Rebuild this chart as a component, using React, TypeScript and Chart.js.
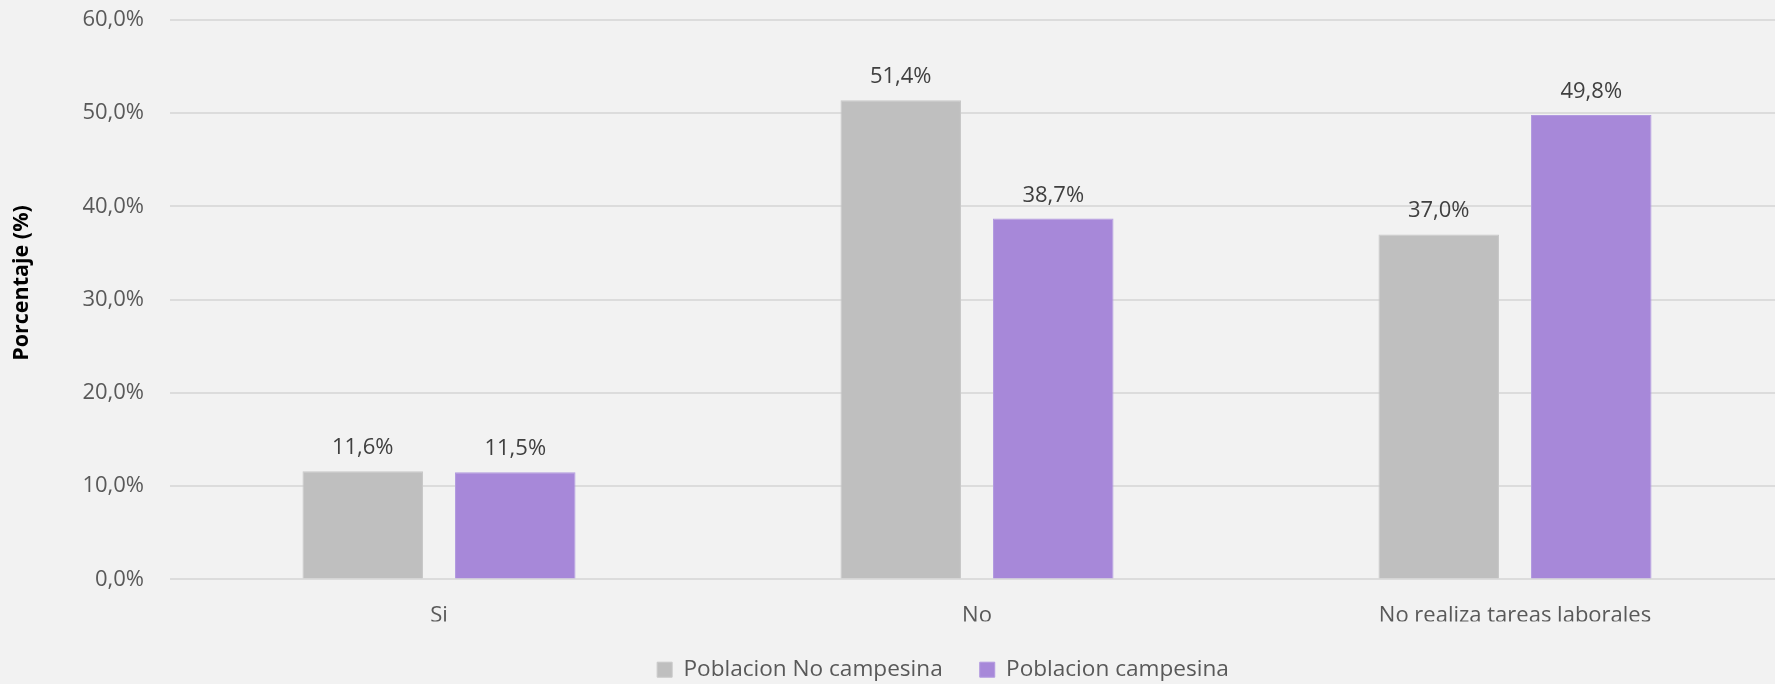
import React, { useEffect, useRef } from "react";
import { Chart, registerables } from "chart.js";

Chart.register(...registerables);

const categories = ["Si", "No", "No realiza tareas laborales"];
const seriesNames = ["Poblacion No campesina", "Poblacion campesina"];
const noCampesina = [11.6, 51.4, 37.0];
const campesina = [11.5, 38.7, 49.8];
const yTicks = [0, 10, 20, 30, 40, 50, 60];
const yTitle = "Porcentaje (%)";

const FONT = "'Open Sans', 'Noto Sans', sans-serif";
const fmt = (v: number) => v.toFixed(1).replace(".", ",") + "%";

const dataLabels = {
  id: "dataLabels",
  afterDatasetsDraw(chart: any) {
    const ctx = chart.ctx;
    ctx.save();
    ctx.font = `22px ${FONT}`;
    ctx.fillStyle = "#404040";
    ctx.textAlign = "center";
    ctx.textBaseline = "alphabetic";
    chart.data.datasets.forEach((ds: any, i: number) => {
      const meta = chart.getDatasetMeta(i);
      meta.data.forEach((bar: any, j: number) => {
        ctx.fillText(fmt(ds.data[j]), bar.x, bar.y - 17);
      });
    });
    ctx.restore();
  },
};

const yTitlePlugin = {
  id: "yTitlePlugin",
  afterDraw(chart: any) {
    const ctx = chart.ctx;
    ctx.save();
    ctx.translate(22, 283);
    ctx.rotate(-Math.PI / 2);
    ctx.font = `bold 21.5px ${FONT}`;
    ctx.fillStyle = "#000000";
    ctx.textAlign = "center";
    ctx.textBaseline = "middle";
    ctx.fillText(yTitle, 0, 0);
    ctx.restore();
  },
};

const legendShift = {
  id: "legendShift",
  afterLayout(chart: any) {
    const lg = chart.legend;
    if (lg) {
      lg.left += 51;
      lg.right += 51;
    }
  },
};

export default function App() {
  const ref = useRef<HTMLCanvasElement>(null);
  useEffect(() => {
    if (!ref.current) return;
    const chart = new Chart(ref.current, {
      type: "bar",
      data: {
        labels: categories,
        datasets: [
          {
            label: seriesNames[0],
            data: noCampesina,
            backgroundColor: "#bfbfbf",
            borderColor: "#c8c8c8",
            borderWidth: 1,
            categoryPercentage: 0.567,
            barPercentage: 0.79,
          },
          {
            label: seriesNames[1],
            data: campesina,
            backgroundColor: "#a788d9",
            borderColor: "#b29ae0",
            borderWidth: 1,
            categoryPercentage: 0.567,
            barPercentage: 0.79,
          },
        ],
      },
      options: {
        responsive: false,
        devicePixelRatio: 1,
        animation: false,
        layout: { padding: { left: 0, right: 16, top: 20, bottom: 2 } },
        plugins: {
          tooltip: { enabled: false },
          legend: {
            position: "bottom",
            labels: {
              boxWidth: 15,
              boxHeight: 15,
              padding: 37,
              color: "#595959",
              font: { family: FONT, size: 22.6 },
            },
          },
        },
        scales: {
          x: {
            grid: { display: false, drawTicks: false },
            border: { display: false },
            ticks: {
              color: "#595959",
              font: { family: FONT, size: 22 },
              padding: 23,
            },
            afterFit: (s: any) => {
              s.height = 42;
            },
          },
          y: {
            min: 0,
            max: 60,
            afterBuildTicks: (s: any) => {
              s.ticks = yTicks.map((v) => ({ value: v }));
            },
            grid: { color: "#dcdcdc", lineWidth: 2, drawTicks: false },
            border: { display: false },
            ticks: {
              color: "#595959",
              font: { family: FONT, size: 22 },
              padding: 26,
              callback: (v: any) => fmt(Number(v)),
            },
            afterFit: (s: any) => {
              s.width = 170;
              s.paddingTop = 0;
              s.paddingBottom = 0;
            },
          },
        },
      },
      plugins: [dataLabels, legendShift, yTitlePlugin],
    });
    return () => chart.destroy();
  }, []);

  return (
    <div
      style={{
        position: "fixed",
        left: 0,
        top: 0,
        width: 1775,
        height: 684,
        overflow: "hidden",
        background: "#f2f2f2",
      }}
    >
      <canvas
        ref={ref}
        width={1800}
        height={693}
        style={{ display: "block", width: 1800, height: 693 }}
      />
    </div>
  );
}
